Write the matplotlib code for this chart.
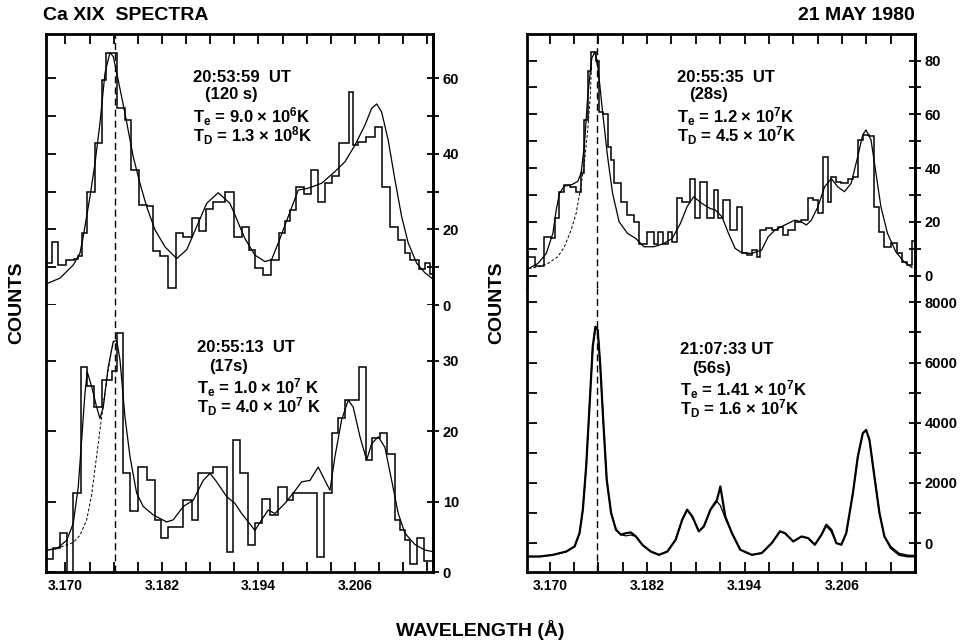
## Ca XIX spectra, 21 May 1980 - four panels (histogram + fitted profile)
import numpy as np
import matplotlib
matplotlib.use("Agg")
from matplotlib import pyplot as plt

plt.rcParams['font.family'] = ['Liberation Sans', 'DejaVu Sans']
plt.rcParams['font.weight'] = 'bold'
plt.rcParams['mathtext.fontset'] = 'custom'
plt.rcParams['mathtext.rm'] = 'Liberation Sans:bold'
plt.rcParams['mathtext.it'] = 'Liberation Sans:bold'
plt.rcParams['mathtext.bf'] = 'Liberation Sans:bold'

## all wavelengths below are offsets from 3.170 A, in mA
W0 = 3.170

## 20:53:59 UT (120 s) - left, top
lt_edges = [-2.4, -1.7, -0.9, 0.1, 1.0, 1.5, 2.0, 2.7, 3.7, 4.5, 5.1, 6.4, 7.4, 8.2, 9.1,
            10.1, 10.9, 11.7, 12.8, 13.7, 14.6, 15.7, 16.6, 17.5, 18.4, 19.1, 19.8, 20.9,
            21.9, 22.8, 23.6, 24.6, 25.6, 26.5, 27.3, 27.9, 28.7, 29.6, 30.5, 31.4, 32.3,
            33.1, 34.0, 35.2, 35.7, 36.4, 37.4, 38.5, 39.3, 40.3, 41.4, 42.2, 42.8, 43.9,
            44.7, 45.3, 45.7]
lt_counts = [11, 16.8, 10.6, 11.9, 12.3, 12.9, 19.0, 30, 42.8, 59.5, 66.8, 52.0, 48.9, 35.7,
             26.5, 26.1, 14.2, 13.0, 4.4, 19.0, 18.1, 22.9, 19.6, 25.4, 27.2, 27.2, 30.0,
             18.1, 20.7, 14.6, 9.7, 8.0, 12.0, 19.0, 22.1, 25.1, 31.3, 29.5, 35.7, 27.2,
             32.2, 34.0, 42.8, 56.4, 42.4, 43.2, 44.5, 47.2, 31.3, 20.7, 17.2, 13.7, 12.0,
             9.4, 11.0, 8.3]
lt_fit_x = [-2.26, -0.68, 0.97, 1.80, 2.21, 3.05, 3.67, 4.29, 4.91, 5.53, 5.95, 6.56, 7.40,
            8.43, 9.26, 10.10, 11.13, 12.37, 13.83, 15.07, 16.31, 17.56, 19.00, 20.45, 21.08,
            22.31, 23.56, 24.80, 25.63, 26.46, 27.70, 28.94, 30.19, 31.85, 33.51, 34.75,
            36.0, 37.24, 38.07, 38.69, 39.31, 40.13, 40.97, 41.80, 42.62, 43.66, 44.70, 45.69]
lt_fit = [5.7, 7.1, 10.6, 13.7, 18.1, 28.7, 37.5, 48.1, 61.3, 66.8, 65.7, 59.5, 50.7, 39.2,
          32.2, 26.0, 19.9, 15.4, 12.3, 14.6, 20.7, 26.9, 29.7, 26.9, 23.8, 17.6, 13.2, 11.5,
          12.0, 16.4, 23.4, 30.4, 30.9, 32.2, 35.3, 37.9, 42.3, 47.6, 52.0, 53.2, 51.1, 43.6,
          33.1, 23.4, 16.4, 11.1, 8.5, 6.9]

## 20:55:13 UT (17 s) - left, bottom
lb_edges = [-2.42, -1.59, -0.68, 0.15, 0.97, 1.89, 2.71, 3.54, 4.50, 5.74, 6.37, 7.19, 8.02,
            9.05, 10.10, 11.13, 11.84, 12.78, 13.83, 14.65, 15.69, 16.51, 17.34, 18.38, 20.04,
            20.86, 21.70, 22.73, 23.56, 24.39, 25.42, 26.46, 27.50, 28.32, 31.23, 32.18,
            33.10, 33.92, 34.75, 36.49, 37.32, 38.07, 39.10, 39.93, 40.97, 41.59, 42.21,
            42.83, 43.76, 44.63, 45.69]
lb_counts = [1.9, 3.4, 5.5, 0, 11.2, 29.1, 26.4, 23.4, 27.2, 28.6, 33.9, 14.0, 8.6, 14.9,
             13.0, 7.4, 4.8, 6.4, 6.4, 10.2, 7.4, 14.0, 14.0, 14.9, 2.9, 18.8, 14.0, 3.9, 6.9,
             10.4, 8.1, 12.1, 10.2, 11.2, 2.1, 11.2, 19.7, 21.8, 24.4, 29.1, 15.9, 19.0, 19.7,
             16.8, 7.4, 6.0, 4.6, 1.2, 4.8, 1.5]
lb_fit_x = [-2.34, -1.09, 0.15, 0.97, 1.59, 2.01, 2.42, 2.71, 3.26, 3.88, 4.29, 4.70, 5.32,
            5.94, 6.37, 6.78, 7.40, 8.02, 8.85, 9.67, 10.92, 12.58, 13.40, 14.65, 15.89,
            17.13, 17.97, 18.80, 20.04, 21.07, 21.91, 23.56, 24.39, 25.21, 26.05, 27.29,
            28.32, 29.37, 30.40, 31.43, 32.26, 32.89, 33.51, 34.34, 35.16, 35.78, 36.62,
            37.45, 38.07, 38.89, 39.72, 40.56, 41.38, 42.21, 43.45, 44.70, 45.69]
lb_fit = [3.1, 3.3, 4.5, 6.9, 12.1, 18.7, 25.3, 28.4, 26.3, 23.4, 21.8, 23.4, 29.1, 32.7,
          32.9, 30.1, 22.0, 16.4, 11.2, 9.3, 8.1, 7.1, 7.4, 9.3, 10.2, 13.0, 14.0, 12.8, 10.7,
          9.75, 8.3, 5.9, 7.4, 8.8, 8.3, 9.75, 11.2, 12.8, 13.0, 14.9, 13.0, 11.6, 16.4,
          21.6, 24.4, 23.4, 19.2, 15.9, 18.2, 19.2, 17.7, 13.0, 8.3, 5.5, 3.9, 3.1, 2.9]
lb_w_x = [-2.34, -0.68, 0.97, 1.80, 2.64, 3.26, 3.88, 4.50, 5.12, 5.74, 6.03]
lb_w = [3.1, 3.5, 4.2, 5.2, 7.4, 11.0, 16.5, 22.0, 27.3, 31.6, 32.8]

## 20:55:35 UT (28 s) - right, top
rt_edges = [-2.63, -1.86, -0.71, 0.18, 0.59, 1.16, 1.78, 2.55, 3.25, 3.86, 4.26, 4.68, 5.08,
            5.69, 6.10, 6.51, 7.20, 7.53, 7.93, 8.76, 9.58, 10.38, 11.00, 12.02, 12.83, 13.32,
            13.90, 14.51, 15.12, 15.73, 16.31, 17.33, 17.94, 18.55, 19.37, 20.18, 20.79,
            21.40, 22.22, 23.05, 23.66, 24.27, 24.88, 25.49, 25.90, 26.63, 27.33, 28.14,
            28.75, 29.36, 30.18, 31.00, 31.81, 32.43, 33.04, 33.65, 34.26, 34.68, 35.29,
            35.90, 36.71, 37.32, 37.94, 38.55, 39.37, 39.98, 40.59, 41.20, 42.02, 42.83,
            43.45, 44.06, 44.67, 44.88]
rt_counts = [7.0, 3.6, 14.4, 14.0, 21.5, 31, 33.7, 33.0, 31, 38.1, 58, 76, 83.3, 80, 60.9, 60,
             48, 43, 34.3, 27.5, 22.5, 20, 11.7, 16.3, 11.7, 16.3, 11.9, 16.3, 12.5, 28.7,
             27.5, 36.1, 21.3, 34.9, 21.3, 31.8, 21.3, 28.1, 16.9, 25.6, 8.3, 7.6, 9.5, 7.0,
             16.9, 17.6, 16.9, 18.2, 15.1, 16.9, 20.1, 20.7, 28.7, 28.1, 23.1, 44.3, 27.5,
             36.8, 34.9, 34.3, 36.1, 36.8, 50.5, 52.4, 51.8, 25.6, 16.3, 10.7, 12.0, 8.3, 5.1,
             3.9, 13]
rt_fit_x = [-2.60, -1.44, -0.43, 0.39, 0.80, 1.20, 1.81, 2.63, 3.45, 3.86, 4.26, 4.68, 5.17,
            5.57, 5.98, 6.51, 7.13, 7.74, 8.55, 9.58, 10.59, 11.61, 12.83, 14.06, 15.09, 16.10,
            16.92, 17.73, 18.76, 19.78, 20.39, 21.21, 22.02, 22.84, 23.66, 24.88, 26.11,
            26.91, 27.74, 28.96, 30.18, 31.00, 31.62, 32.23, 33.04, 33.86, 34.68, 35.49,
            36.31, 37.13, 37.94, 38.55, 38.96, 39.58, 40.19, 40.80, 41.61, 42.64, 43.65, 44.63]
rt_fit = [2.6, 4.5, 8.2, 15.7, 24.4, 30.6, 33.3, 33.7, 35.0, 38.1, 48.0, 66.6, 80.8, 83.3,
          76.5, 60.9, 44.2, 30.6, 20.0, 15.7, 13.8, 10.7, 10.7, 11.9, 13.8, 19.4, 25.6, 29.3,
          26.8, 24.9, 24.4, 21.9, 15.7, 10.1, 8.5, 8.2, 9.5, 14.4, 16.9, 18.8, 20.6, 20.0,
          18.8, 20.6, 25.6, 33.0, 36.1, 33.0, 31.2, 34.3, 44.2, 52.3, 54.2, 50.5, 38.1, 25.6,
          15.7, 8.8, 5.1, 3.0]
rt_w_x = [-2.60, -1.44, -0.22, 1.00, 1.81, 2.63, 3.25, 3.77, 4.26, 4.68, 5.00, 5.17]
rt_w = [2.6, 3.2, 4.5, 7.0, 10.7, 16.9, 23.1, 31.8, 41.7, 54.2, 66.6, 80.8]

## 21:07:33 UT (56 s) - right, bottom
rb_x = [-2.78, -1.22, 0.40, 2.04, 3.06, 3.67, 4.08, 4.49, 4.90, 5.30, 5.63, 5.91, 6.21, 6.61,
        7.02, 7.56, 8.17, 8.78, 9.39, 10.00, 10.62, 11.42, 12.45, 13.47, 14.49, 15.51, 16.32,
        16.93, 17.55, 18.37, 18.98, 19.80, 20.61, 21.02, 21.63, 22.45, 23.47, 24.89, 26.12,
        27.35, 28.37, 28.98, 30.00, 31.02, 31.84, 32.66, 33.47, 34.08, 34.70, 35.31, 35.92,
        36.53, 37.35, 37.96, 38.57, 38.98, 39.39, 40.00, 40.62, 41.23, 42.04, 43.07, 44.08,
        44.90]
rb_data = [-445, -445, -390, -280, -113, 330, 1110, 2550, 4540, 6530, 7190, 7080, 5970, 3990,
           2110, 1000, 440, 280, 330, 355, 220, -60, -280, -390, -280, 110, 775, 1110, 890,
           390, 550, 1110, 1440, 1880, 880, 330, -220, -390, -330, 0, 390, 330, 55, 220, 165,
           -55, 275, 610, 440, 0, -55, 330, 1660, 2880, 3650, 3760, 3430, 2210, 1000, 220,
           -165, -390, -440, -440]
rb_fit = [-445, -445, -390, -280, -113, 330, 1110, 2550, 4540, 6530, 7190, 7080, 5970, 3990,
          2110, 1000, 440, 280, 240, 270, 220, -60, -280, -390, -280, 110, 775, 1110, 890,
          390, 550, 1110, 1380, 1250, 820, 330, -220, -390, -330, 0, 390, 330, 55, 220, 165,
          -55, 275, 560, 380, 0, -55, 330, 1660, 2880, 3650, 3760, 3430, 2210, 1000, 220,
          -120, -340, -400, -410]

## position of the resonance line (dashed marker) in each column
w_line = [6.2, 5.8]

labels = [["20:53:59  UT", "(120 s)", r"T$_e$ = 9.0 × 10$^6$K", r"T$_D$ = 1.3 × 10$^8$K"],
          ["20:55:13  UT", "(17s)", r"T$_e$ = 1.0 × 10$^7$ K", r"T$_D$ = 4.0 × 10$^7$ K"],
          ["20:55:35  UT", "(28s)", r"T$_e$ = 1.2 × 10$^7$K", r"T$_D$ = 4.5 × 10$^7$K"],
          ["21:07:33 UT", "(56s)", r"T$_e$ = 1.41 × 10$^7$K", r"T$_D$ = 1.6 × 10$^7$K"]]


def wl(x):
    return W0 + np.asarray(x) / 1000.0


W, H = 966, 644
fig = plt.figure(figsize=(W / 100, H / 100), dpi=100)


def box(x0, x1, y0, y1):
    return fig.add_axes([x0 / W, 1 - y1 / H, (x1 - x0) / W, (y1 - y0) / H])


minor_x = wl(np.arange(0, 46, 3))
major_x = wl([0, 12, 24, 36])


def setup(ax, xlim, ylim, left_ticks, right_major, right_minor, top):
    ax.set_xlim(wl(xlim))
    ax.set_ylim(ylim)
    for s in ax.spines.values():
        s.set_linewidth(2)
    if top:
        ax.spines['bottom'].set_visible(False)
        ax.xaxis.set_ticks_position('top')
        ax.set_xticks(minor_x)
        ax.set_xticklabels([])
    else:
        ax.spines['top'].set_visible(False)
        ax.xaxis.set_ticks_position('bottom')
        ax.set_xticks(major_x, ["%.3f" % v for v in major_x])
        ax.set_xticks(minor_x, minor=True)
    ax.tick_params(axis='x', which='both', direction='in', length=7, width=1.3,
                   labelsize=10, pad=5)
    ax.set_yticks(left_ticks)
    ax.tick_params(axis='y', left=True, right=False, labelleft=False,
                   direction='in', length=7, width=1.3)
    sec = ax.secondary_yaxis('right')
    sec.spines['right'].set_linewidth(2)
    sec.set_yticks(right_major, [str(v) for v in right_major])
    sec.set_yticks(right_minor, minor=True)
    sec.tick_params(which='both', direction='inout', length=8, width=1.3,
                    labelsize=10.5, pad=3)


## left column
ax = box(46, 433, 34, 305)
setup(ax, (-2.42, 45.7), (0, 71.7), range(0, 61, 10), [0, 20, 40, 60], range(10, 60, 20), True)
ax.stairs(lt_counts, wl(lt_edges), baseline=None, color='k', lw=1.1)
ax.plot(wl(lt_fit_x), lt_fit, color='k', lw=0.9)
ax.axvline(wl(w_line[0]), color='k', lw=1.0, ls=(0, (5, 3)))

ax = box(46, 433, 305, 572)
setup(ax, (-2.42, 45.7), (0, 37.9), range(0, 31, 10), [0, 10, 20, 30], [], False)
ax.stairs(lb_counts, wl(lb_edges), baseline=None, color='k', lw=1.1)
ax.plot(wl(lb_fit_x), lb_fit, color='k', lw=0.9)
ax.plot(wl(lb_w_x), lb_w, color='k', lw=0.7, ls=(0, (3, 2)))
ax.axvline(wl(w_line[0]), color='k', lw=1.0, ls=(0, (5, 3)))

## right column
ax = box(527, 915, 34, 288)
setup(ax, (-2.8, 44.8), (-4.65, 89.9), range(0, 81, 10), [0, 20, 40, 60, 80],
      range(10, 80, 20), True)
ax.stairs(rt_counts, wl(rt_edges), baseline=None, color='k', lw=1.1)
ax.plot(wl(rt_fit_x), rt_fit, color='k', lw=0.9)
ax.plot(wl(rt_w_x), rt_w, color='k', lw=0.7, ls=(0, (3, 2)))
ax.axvline(wl(w_line[1]), color='k', lw=1.0, ls=(0, (5, 3)))

ax = box(527, 915, 288, 572)
setup(ax, (-2.8, 44.8), (-960, 8476), range(0, 8001, 1000), [0, 2000, 4000, 6000, 8000],
      range(1000, 8000, 2000), False)
ax.plot(wl(rb_x), rb_data, color='k', lw=1.6)
ax.plot(wl(rb_x), rb_fit, color='k', lw=0.9)
ax.axvline(wl(w_line[1]), color='k', lw=1.0, ls=(0, (5, 3)))

## annotations: time line, exposure line, then the two temperatures as one block
pos = [(193, 77), (197, 348), (677, 77), (680, 350)]
for (x, y), lines in zip(pos, labels):
    fig.text(x / W, 1 - y / H, lines[0], fontsize=12, fontweight='bold',
             ha='left', va='center')
    fig.text((x + 12) / W, 1 - (y + 18) / H, lines[1], fontsize=12, fontweight='bold',
             ha='left', va='center')
    fig.text(x / W, 1 - (y + 49) / H, lines[2] + "\n" + lines[3], fontsize=12,
             fontweight='bold', ha='left', va='center', linespacing=0.8)

fig.text(43 / W, 1 - 15 / H, "Ca XIX  SPECTRA", fontsize=14, fontweight='bold', va='center')
fig.text(915 / W, 1 - 15 / H, "21 MAY 1980", fontsize=14, fontweight='bold', va='center',
         ha='right')
for x in (17, 497):
    fig.text(x / W, 1 - 303 / H, "COUNTS", fontsize=14, fontweight='bold', rotation=90,
             va='center', ha='center')
fig.text(480 / W, 1 - 630 / H, "WAVELENGTH (Å)", fontsize=14, fontweight='bold',
         ha='center', va='center')

plt.savefig("out.png", dpi=100)
